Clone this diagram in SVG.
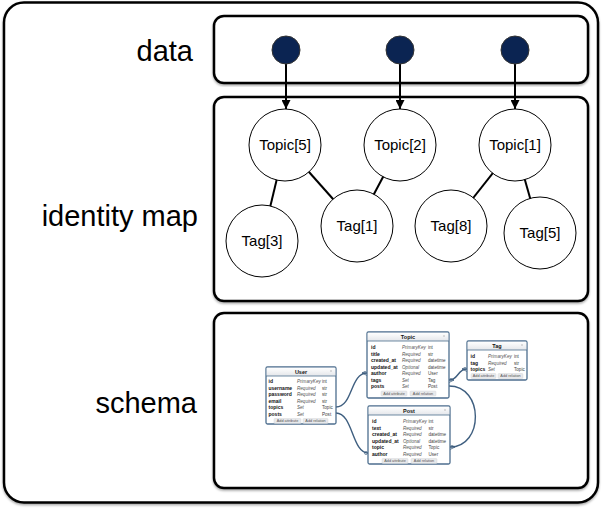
<svg xmlns="http://www.w3.org/2000/svg" width="604" height="509" viewBox="0 0 604 509">
<defs>
<filter id="sh" x="-5%" y="-5%" width="110%" height="110%">
<feDropShadow dx="0" dy="1.5" stdDeviation="1.2" flood-color="#000" flood-opacity="0.35"/>
</filter>
<linearGradient id="hd" x1="0" y1="0" x2="0" y2="1">
<stop offset="0" stop-color="#ffffff"/><stop offset="1" stop-color="#e4e6ea"/>
</linearGradient>
<marker id="ah" viewBox="0 0 10 10" refX="10" refY="5" markerWidth="9" markerHeight="9" markerUnits="userSpaceOnUse" orient="auto">
<path d="M0,0 L10,5 L0,10 z" fill="#000"/>
</marker>
<marker id="crow" viewBox="0 0 6 6" refX="6" refY="3" markerWidth="5" markerHeight="5" markerUnits="userSpaceOnUse" orient="auto">
<path d="M0,3 L6,0 M0,3 L6,3 M0,3 L6,6" stroke="#3f5f80" stroke-width="1" fill="none"/>
</marker>
<marker id="crowS" viewBox="0 0 6 6" refX="0" refY="3" markerWidth="5" markerHeight="5" markerUnits="userSpaceOnUse" orient="auto">
<path d="M6,3 L0,0 M6,3 L0,3 M6,3 L0,6" stroke="#3f5f80" stroke-width="1" fill="none"/>
</marker>
<marker id="ring" viewBox="0 0 6 6" refX="6" refY="3" markerWidth="4" markerHeight="4" markerUnits="userSpaceOnUse" orient="auto">
<circle cx="3" cy="3" r="2.3" stroke="#3f5f80" stroke-width="1" fill="none"/>
</marker>
</defs>
<style>
.frame{fill:#fff;stroke:#000;stroke-width:2.5;filter:url(#sh)}
.lbl{font-family:"Liberation Sans",Arial,sans-serif;font-size:29px;fill:#000;text-anchor:end}
.dot{fill:#0b2452;stroke:#333;stroke-width:1}
.arr{stroke:#000;stroke-width:2;fill:none;marker-end:url(#ah)}
.node{fill:#fff;stroke:#000;stroke-width:1}
.ntx{font-family:"Liberation Sans",Arial,sans-serif;font-size:15px;text-anchor:middle;fill:#000}
.edge{stroke:#000;stroke-width:2}
.tb{fill:#fff;stroke:#4d6e8e;stroke-width:1.3}
.th{fill:url(#hd)}
.tsep{stroke:#4d6e8e;stroke-width:0.8}
.tt{font-family:"Liberation Sans",Arial,sans-serif;font-size:5.5px;font-weight:bold;text-anchor:middle;fill:#111}
.fn{font-family:"Liberation Sans",Arial,sans-serif;font-size:5px;font-weight:bold;fill:#111}
.fk{font-family:"Liberation Sans",Arial,sans-serif;font-size:4.6px;font-style:italic;fill:#555}
.ft{font-family:"Liberation Sans",Arial,sans-serif;font-size:4.6px;fill:#444}
.btn{fill:#e8e9eb;stroke:#cfd1d4;stroke-width:0.4}
.bt{font-family:"Liberation Sans",Arial,sans-serif;font-size:3.8px;fill:#555;text-anchor:middle}
.ico{stroke:#999;stroke-width:0.6}
.rel{stroke:#3f5f80;stroke-width:1.4;fill:none}
</style>

<g id="outer"><rect class="frame" x="4" y="2.5" width="594" height="500" rx="20"/></g>

<g id="data-section">
<rect class="frame" x="214" y="16" width="374" height="67" rx="10"/>
<text class="lbl" x="193" y="61">data</text>
</g>
<g id="identity-section">
<rect class="frame" x="214" y="97" width="374" height="204" rx="10"/>
<text class="lbl" x="198" y="226">identity map</text>
</g>
<g id="schema-section">
<rect class="frame" x="214" y="313" width="374" height="175" rx="10"/>
<text class="lbl" x="197" y="413">schema</text>
</g>

<g id="connectors">
<line class="arr" x1="286" y1="64" x2="286" y2="109"/>
<line class="arr" x1="400" y1="64" x2="400" y2="109"/>
<line class="arr" x1="515" y1="64" x2="515" y2="109"/>
<line class="edge" x1="285" y1="145" x2="262" y2="241"/>
<line class="edge" x1="285" y1="145" x2="357" y2="226"/>
<line class="edge" x1="400" y1="145" x2="357" y2="226"/>
<line class="edge" x1="515" y1="145" x2="451" y2="226"/>
<line class="edge" x1="515" y1="145" x2="540" y2="233"/>
<path class="rel" d="M336,407 C353,407 350,373 367,373" marker-end="url(#crow)"/>
<path class="rel" d="M336,413 C353,413 352,453 368,453" marker-end="url(#ring)"/>
<path class="rel" d="M449,380 C459,380 457,369 467,369" marker-start="url(#crowS)" marker-end="url(#crow)"/>
<path class="rel" d="M449,386 C484,386 484,447 450,447" marker-end="url(#crow)"/>
</g>

<g id="dot1"><circle class="dot" cx="286" cy="50" r="14"/></g>
<g id="dot2"><circle class="dot" cx="400" cy="50" r="14"/></g>
<g id="dot3"><circle class="dot" cx="515" cy="50" r="14"/></g>

<g id="topic5"><circle class="node" cx="285" cy="145" r="36"/><text class="ntx" x="285" y="150">Topic[5]</text></g>
<g id="topic2"><circle class="node" cx="400" cy="145" r="36"/><text class="ntx" x="400" y="150">Topic[2]</text></g>
<g id="topic1"><circle class="node" cx="515" cy="145" r="36"/><text class="ntx" x="515" y="150">Topic[1]</text></g>
<g id="tag3"><circle class="node" cx="262" cy="241" r="36"/><text class="ntx" x="262" y="246">Tag[3]</text></g>
<g id="tag1"><circle class="node" cx="357" cy="226" r="36"/><text class="ntx" x="357" y="231">Tag[1]</text></g>
<g id="tag8"><circle class="node" cx="451" cy="226" r="36"/><text class="ntx" x="451" y="231">Tag[8]</text></g>
<g id="tag5"><circle class="node" cx="540" cy="233" r="36"/><text class="ntx" x="540" y="238">Tag[5]</text></g>

<g id="entity-user">
<rect class="tb" x="266" y="367" width="70" height="57" rx="1.5"/>
<rect class="th" x="266.7" y="367.7" width="68.6" height="8.3"/>
<line class="tsep" x1="266" y1="376" x2="336" y2="376"/>
<text class="tt" x="301" y="374">User</text>
<line class="ico" x1="330" y1="371" x2="332" y2="371"/>
<text class="fn" x="268.5" y="383">id</text><text class="fk" x="297" y="383">PrimaryKey</text><text class="ft" x="322" y="383">int</text>
<text class="fn" x="268.5" y="389.5">username</text><text class="fk" x="297" y="389.5">Required</text><text class="ft" x="322" y="389.5">str</text>
<text class="fn" x="268.5" y="396">password</text><text class="fk" x="297" y="396">Required</text><text class="ft" x="322" y="396">str</text>
<text class="fn" x="268.5" y="402.5">email</text><text class="fk" x="297" y="402.5">Required</text><text class="ft" x="322" y="402.5">str</text>
<text class="fn" x="268.5" y="409">topics</text><text class="fk" x="297" y="409">Set</text><text class="ft" x="322" y="409">Topic</text>
<text class="fn" x="268.5" y="415.5">posts</text><text class="fk" x="297" y="415.5">Set</text><text class="ft" x="322" y="415.5">Post</text>
<rect class="btn" x="274" y="418.5" width="27" height="5" rx="1"/><text class="bt" x="287.5" y="422.3">Add attribute</text>
<rect class="btn" x="303" y="418.5" width="25" height="5" rx="1"/><text class="bt" x="315.5" y="422.3">Add relation</text>
</g>

<g id="entity-topic">
<rect class="tb" x="367" y="332" width="82" height="66" rx="1.5"/>
<rect class="th" x="367.7" y="332.7" width="80.6" height="8.3"/>
<line class="tsep" x1="367" y1="341" x2="449" y2="341"/>
<text class="tt" x="408" y="339">Topic</text>
<line class="ico" x1="443" y1="336" x2="445" y2="336"/>
<text class="fn" x="371" y="349">id</text><text class="fk" x="402" y="349">PrimaryKey</text><text class="ft" x="428" y="349">int</text>
<text class="fn" x="371" y="355.5">title</text><text class="fk" x="402" y="355.5">Required</text><text class="ft" x="428" y="355.5">str</text>
<text class="fn" x="371" y="362">created_at</text><text class="fk" x="402" y="362">Required</text><text class="ft" x="428" y="362">datetime</text>
<text class="fn" x="371" y="368.5">updated_at</text><text class="fk" x="402" y="368.5">Optional</text><text class="ft" x="428" y="368.5">datetime</text>
<text class="fn" x="371" y="375">author</text><text class="fk" x="402" y="375">Required</text><text class="ft" x="428" y="375">User</text>
<text class="fn" x="371" y="381.5">tags</text><text class="fk" x="402" y="381.5">Set</text><text class="ft" x="428" y="381.5">Tag</text>
<text class="fn" x="371" y="388">posts</text><text class="fk" x="402" y="388">Set</text><text class="ft" x="428" y="388">Post</text>
<rect class="btn" x="381" y="391" width="26" height="5" rx="1"/><text class="bt" x="394" y="394.8">Add attribute</text>
<rect class="btn" x="410" y="391" width="26" height="5" rx="1"/><text class="bt" x="423" y="394.8">Add relation</text>
</g>

<g id="entity-post">
<rect class="tb" x="368" y="406" width="82" height="58" rx="1.5"/>
<rect class="th" x="368.7" y="406.7" width="80.6" height="8.3"/>
<line class="tsep" x1="368" y1="415" x2="450" y2="415"/>
<text class="tt" x="409" y="413">Post</text>
<line class="ico" x1="444" y1="410" x2="446" y2="410"/>
<text class="fn" x="372" y="423">id</text><text class="fk" x="403" y="423">PrimaryKey</text><text class="ft" x="428.5" y="423">int</text>
<text class="fn" x="372" y="429.5">text</text><text class="fk" x="403" y="429.5">Required</text><text class="ft" x="428.5" y="429.5">str</text>
<text class="fn" x="372" y="436">created_at</text><text class="fk" x="403" y="436">Required</text><text class="ft" x="428.5" y="436">datetime</text>
<text class="fn" x="372" y="442.5">updated_at</text><text class="fk" x="403" y="442.5">Optional</text><text class="ft" x="428.5" y="442.5">datetime</text>
<text class="fn" x="372" y="449">topic</text><text class="fk" x="403" y="449">Required</text><text class="ft" x="428.5" y="449">Topic</text>
<text class="fn" x="372" y="455.5">author</text><text class="fk" x="403" y="455.5">Required</text><text class="ft" x="428.5" y="455.5">User</text>
<rect class="btn" x="382" y="458.5" width="26" height="5" rx="1"/><text class="bt" x="395" y="462.3">Add attribute</text>
<rect class="btn" x="411" y="458.5" width="26" height="5" rx="1"/><text class="bt" x="424" y="462.3">Add relation</text>
</g>

<g id="entity-tag">
<rect class="tb" x="467" y="341" width="60" height="39" rx="1.5"/>
<rect class="th" x="467.7" y="341.7" width="58.6" height="8.3"/>
<line class="tsep" x1="467" y1="350" x2="527" y2="350"/>
<text class="tt" x="497" y="348">Tag</text>
<line class="ico" x1="521" y1="345" x2="523" y2="345"/>
<text class="fn" x="470.5" y="358">id</text><text class="fk" x="488" y="358">PrimaryKey</text><text class="ft" x="514" y="358">int</text>
<text class="fn" x="470.5" y="364.5">tag</text><text class="fk" x="488" y="364.5">Required</text><text class="ft" x="514" y="364.5">str</text>
<text class="fn" x="470.5" y="371">topics</text><text class="fk" x="488" y="371">Set</text><text class="ft" x="514" y="371">Topic</text>
<rect class="btn" x="471" y="373.5" width="25" height="5" rx="1"/><text class="bt" x="483.5" y="377.3">Add attribute</text>
<rect class="btn" x="498" y="373.5" width="25" height="5" rx="1"/><text class="bt" x="510.5" y="377.3">Add relation</text>
</g>
</svg>
